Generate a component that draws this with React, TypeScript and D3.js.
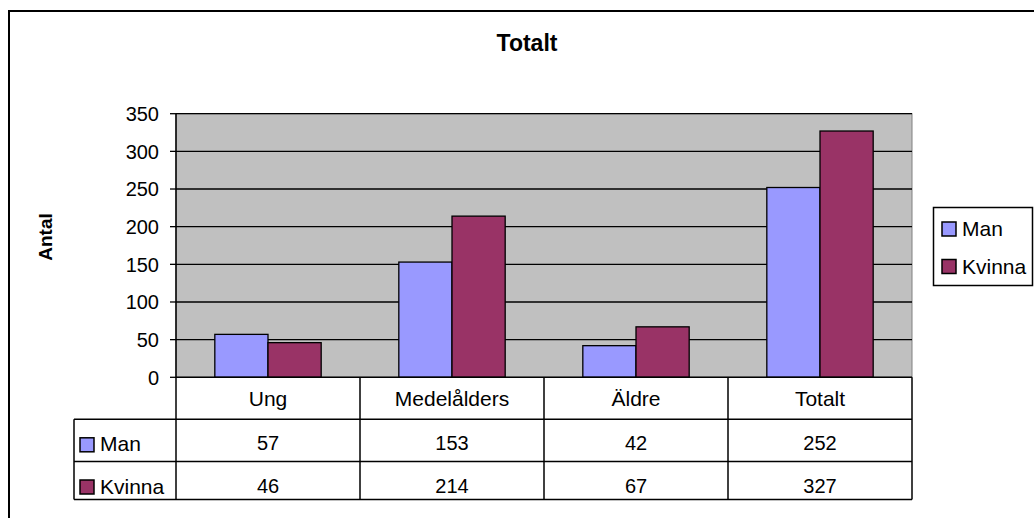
import React from "react";
import * as d3 from "d3";

const categories = ["Ung", "Medelålders", "Äldre", "Totalt"];
const seriesNames = ["Man", "Kvinna"];
const manValues = [57, 153, 42, 252];
const kvinnaValues = [46, 214, 67, 327];
const seriesColors = ["#9999FF", "#993366"];
const yTicks = [0, 50, 100, 150, 200, 250, 300, 350];
const chartTitle = "Totalt";
const yAxisTitle = "Antal";

const W = 1034;
const H = 518;
const FONT = "Liberation Sans, Arial, sans-serif";

export default function App() {
  const plotL = 176, plotR = 912, plotT = 113.7, plotB = 377.3;
  const x0 = d3.scaleBand<string>().domain(categories).range([plotL, plotR]).padding(0);
  const x1 = d3
    .scaleBand<string>()
    .domain(seriesNames)
    .range([0, x0.bandwidth()])
    .paddingInner(0)
    .paddingOuter(0.73);
  const y = d3.scaleLinear().domain([0, 350]).range([plotB, plotT]);
  const values = [manValues, kvinnaValues];

  const rowTop = [377.3, 419.3, 461.5, 499.5];
  const tableL = 74;
  const fs = 20;
  const fsw = 21;

  return (
    <svg
      width={W}
      height={H}
      style={{ position: "absolute", left: 0, top: 0, background: "#fff" }}
      fontFamily={FONT}
    >
      <rect x={0} y={0} width={W} height={H} fill="#fff" />
      {/* outer border */}
      <rect x={9} y={11} width={1040} height={520} fill="none" stroke="#000" strokeWidth={2} />
      {/* title */}
      <text x={527} y={51} textAnchor="middle" fontSize={23} fontWeight="bold">
        {chartTitle}
      </text>
      {/* y axis title */}
      <text
        transform={`translate(52,237) rotate(-90)`}
        textAnchor="middle"
        fontSize={19}
        fontWeight="bold"
      >
        {yAxisTitle}
      </text>
      {/* plot area */}
      <rect x={plotL} y={plotT} width={plotR - plotL} height={plotB - plotT} fill="#C0C0C0" stroke="#808080" strokeWidth={1} />
      {yTicks.slice(1).map((t) => (
        <line key={t} x1={plotL} x2={plotR} y1={y(t)} y2={y(t)} stroke="#000" strokeWidth={1.3} />
      ))}
      {/* bars */}
      {categories.map((c, i) =>
        seriesNames.map((s, j) => (
          <rect
            key={c + s}
            x={(x0(c) as number) + (x1(s) as number)}
            y={y(values[j][i])}
            width={x1.bandwidth()}
            height={plotB - y(values[j][i])}
            fill={seriesColors[j]}
            stroke="#000"
            strokeWidth={1.3}
          />
        ))
      )}
      {/* y axis */}
      <line x1={plotL} x2={plotL} y1={plotT} y2={rowTop[3]} stroke="#000" strokeWidth={1.5} />
      {yTicks.map((t) => (
        <g key={t}>
          <line x1={plotL - 6} x2={plotL} y1={y(t)} y2={y(t)} stroke="#000" strokeWidth={1.3} />
          <text x={159} y={y(t)} dy="0.36em" textAnchor="end" fontSize={fs}>
            {t}
          </text>
        </g>
      ))}
      {/* data table */}
      <line x1={plotL} x2={plotR} y1={rowTop[0]} y2={rowTop[0]} stroke="#000" strokeWidth={1.5} />
      {[1, 2, 3].map((r) => (
        <line key={r} x1={tableL} x2={plotR} y1={rowTop[r]} y2={rowTop[r]} stroke="#000" strokeWidth={1.5} />
      ))}
      <line x1={tableL} x2={tableL} y1={rowTop[1]} y2={rowTop[3]} stroke="#000" strokeWidth={1.5} />
      {categories.map((c) => (
        <line
          key={"v" + c}
          x1={(x0(c) as number) + x0.bandwidth()}
          x2={(x0(c) as number) + x0.bandwidth()}
          y1={rowTop[0]}
          y2={rowTop[3]}
          stroke="#000"
          strokeWidth={1.5}
        />
      ))}
      {categories.map((c) => (
        <text key={"c" + c} x={(x0(c) as number) + x0.bandwidth() / 2} y={406} textAnchor="middle" fontSize={fsw}>
          {c}
        </text>
      ))}
      {seriesNames.map((s, j) => (
        <g key={"row" + s}>
          <rect x={80} y={rowTop[j + 1] + 18.5} width={14} height={14} fill={seriesColors[j]} stroke="#000" strokeWidth={1.5} />
          <text x={100} y={rowTop[j + 1] + 32} fontSize={fsw}>
            {s}
          </text>
          {categories.map((c, i) => (
            <text
              key={s + c}
              x={(x0(c) as number) + x0.bandwidth() / 2}
              y={rowTop[j + 1] + 31}
              textAnchor="middle"
              fontSize={fs}
            >
              {values[j][i]}
            </text>
          ))}
        </g>
      ))}
      {/* legend */}
      <rect x={933.5} y={207.5} width={99} height={78} fill="#fff" stroke="#000" strokeWidth={1.5} />
      {seriesNames.map((s, j) => (
        <g key={"leg" + s}>
          <rect x={942} y={222 + j * 37.5} width={14} height={14} fill={seriesColors[j]} stroke="#000" strokeWidth={1.5} />
          <text x={962} y={236 + j * 37.5} fontSize={fsw}>
            {s}
          </text>
        </g>
      ))}
    </svg>
  );
}
